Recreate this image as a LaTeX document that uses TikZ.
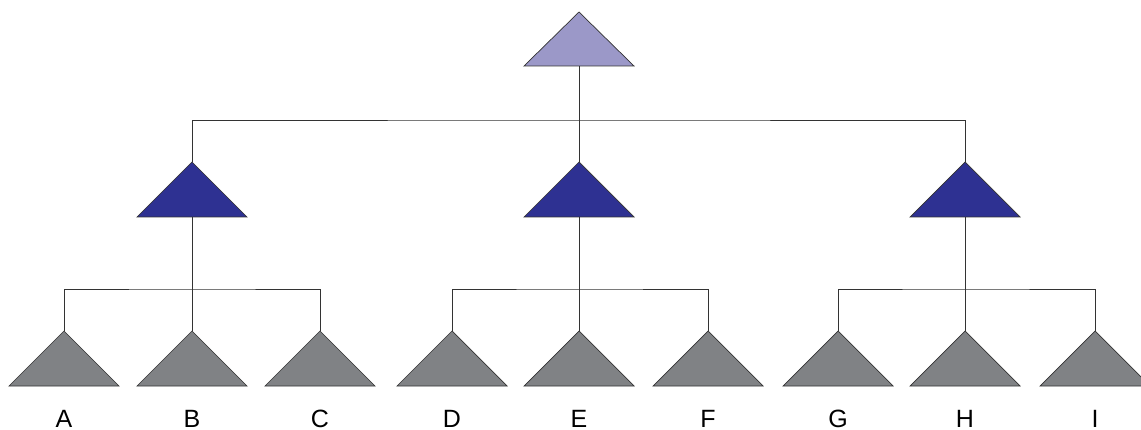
\documentclass[tikz,border=0pt]{standalone}
\usepackage{fontspec}
\setmainfont{Liberation Sans}
\usetikzlibrary{calc}
\definecolor{toptri}{HTML}{9B98C8}
\definecolor{midtri}{HTML}{2E3192}
\definecolor{leaftri}{HTML}{808285}
\definecolor{edge}{HTML}{333333}
\begin{document}
\begin{tikzpicture}[x=1pt,y=-1pt,
  tri/.style={draw=edge,line width=0.7pt,line join=miter},
  conn/.style={draw=edge,line width=0.8pt},
  lbl/.style={font=\fontsize{25}{25}\selectfont,anchor=base,inner sep=0pt}]
\useasboundingbox (0,0) rectangle (1141,430);
\clip (0,0) rectangle (1141,430);
% apex coordinates
\coordinate (root) at (579,12);
\coordinate (m1) at (192,162);
\coordinate (m2) at (579,162);
\coordinate (m3) at (965,162);
\foreach \n/\x in {A/64,B/192,C/320,D/452,E/579,F/708,G/838,H/965,I/1095}{
  \coordinate (t\n) at (\x,331);
  \coordinate (b\n) at (\x,386);
}
\coordinate (rootb) at (579,66);
\coordinate (m1b) at (192,217);
\coordinate (m2b) at (579,217);
\coordinate (m3b) at (965,217);
% connectors
\draw[conn] (rootb) -- (m2);
\draw[conn] (m1) |- (rootb |- 0,120) -| (m3);
\draw[conn] (m1b) -- (tB);
\draw[conn] (tA) |- (m1b |- 0,289) -| (tC);
\draw[conn] (m2b) -- (tE);
\draw[conn] (tD) |- (m2b |- 0,289) -| (tF);
\draw[conn] (m3b) -- (tH);
\draw[conn] (tG) |- (m3b |- 0,289) -| (tI);
% triangles
\draw[tri,fill=toptri] (root) -- ++(55,54) -- ++(-110,0) -- cycle;
\foreach \m in {m1,m2,m3}{
  \draw[tri,fill=midtri] (\m) -- ++(55,55) -- ++(-110,0) -- cycle;
}
\foreach \n in {A,B,C,D,E,F,G,H,I}{
  \draw[tri,fill=leaftri] (t\n) -- ++(55,55) -- ++(-110,0) -- cycle;
  \node[lbl] (l\n) at ($(b\n)+(0,41)$) {\n};
}
\end{tikzpicture}
\end{document}
